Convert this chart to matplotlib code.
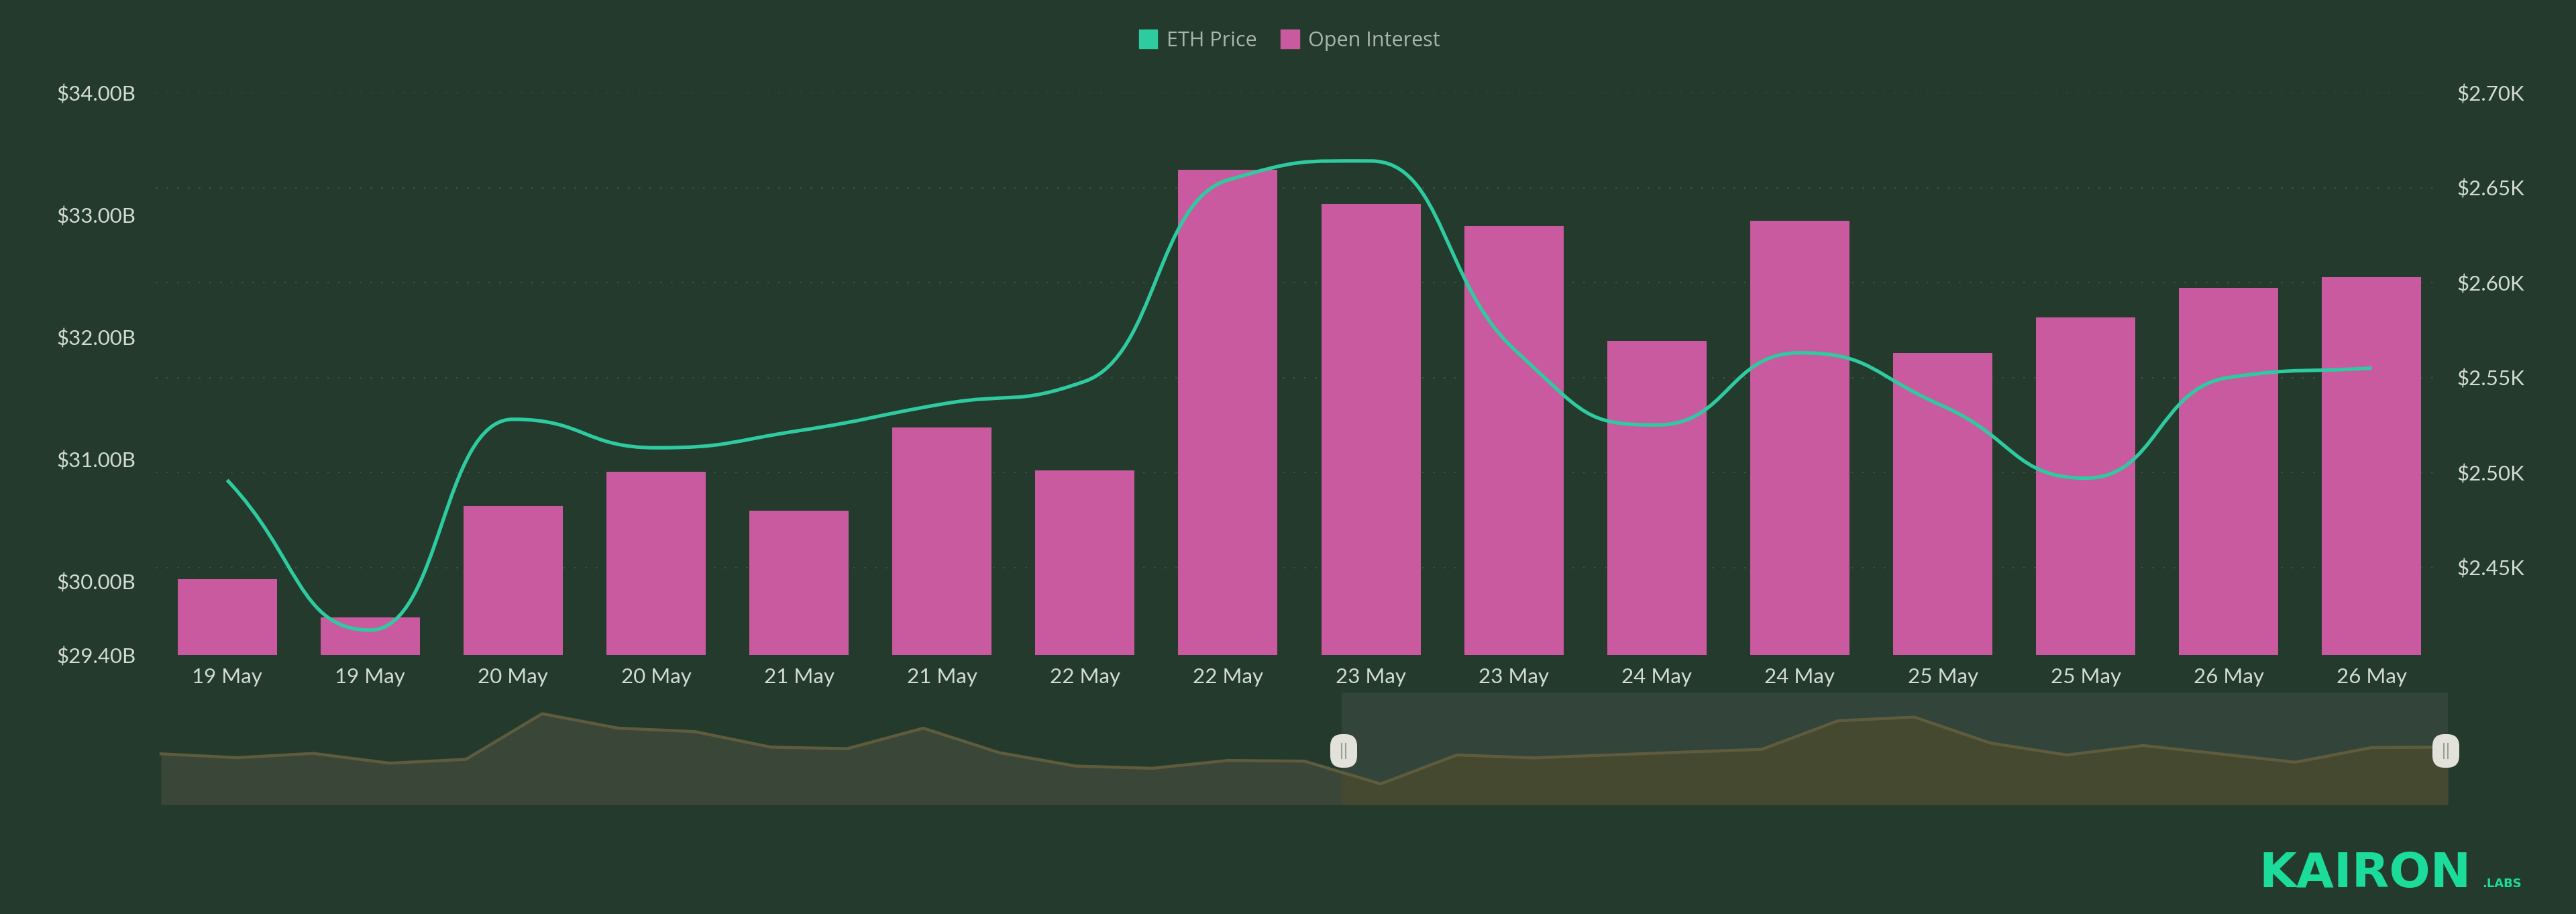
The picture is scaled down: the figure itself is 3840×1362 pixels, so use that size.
import matplotlib
matplotlib.use("Agg")
import matplotlib.pyplot as plt
import matplotlib.transforms as mtransforms
import numpy as np
from matplotlib.patches import FancyBboxPatch, Patch, PathPatch, Rectangle
from matplotlib.path import Path

plt.rcParams["font.family"] = ["Lato", "DejaVu Sans"]

# === DATA ===
labels = ["19 May", "19 May", "20 May", "20 May", "21 May", "21 May", "22 May", "22 May",
          "23 May", "23 May", "24 May", "24 May", "25 May", "25 May", "26 May", "26 May"]
open_interest = [30.02, 29.71, 30.62, 30.90, 30.58, 31.26, 30.91, 33.37,
                 33.09, 32.91, 31.97, 32.95, 31.87, 32.16, 32.40, 32.49]
eth_price = [2.496, 2.417, 2.528, 2.513, 2.522, 2.536, 2.548, 2.654,
             2.664, 2.565, 2.525, 2.563, 2.535, 2.497, 2.550, 2.555]
oi_ticks = [29.4, 30, 31, 32, 33, 34]
price_ticks = [2.45, 2.50, 2.55, 2.60, 2.65, 2.70]
# overview strip under the chart, height as a share of the strip
overview = [.453, .419, .457, .370, .404, .811, .682, .652, .513, .499, .682,
            .463, .344, .324, .394, .388, .185, .443, .417, .443, .469,
            .493, .748, .781, .549, .443, .527, .453, .378, .509, .513]
window_start = 15.49

# === STYLE ===
W, H = 3840, 1362
BG = "#243a2c"
BAR = "#ca5a9f"
LINE = "#2ecba0"
TEXT = "#d3dbd6"
FS = 22.5


def px_axes(fig, left, top, right, bottom):
    return fig.add_axes([left / W, 1 - bottom / H, (right - left) / W, (bottom - top) / H])


def smooth_path(x, y):
    """Bezier through the points, flat at local extrema (like a smoothed echarts line)."""
    x, y = np.asarray(x, float), np.asarray(y, float)
    m = np.zeros(len(y))
    for i in range(1, len(y) - 1):
        a, b = y[i] - y[i - 1], y[i + 1] - y[i]
        if a * b > 0:
            m[i] = np.sign(a) * min(abs(a + b) / 2, 2.2 * abs(a), 2.2 * abs(b))
    m[0], m[-1] = y[1] - y[0], y[-1] - y[-2]
    verts, codes = [(x[0], y[0])], [Path.MOVETO]
    for i in range(len(y) - 1):
        verts += [(x[i] + 0.5, y[i] + 0.5 * m[i]), (x[i + 1] - 0.5, y[i + 1] - 0.5 * m[i + 1]), (x[i + 1], y[i + 1])]
        codes += [Path.CURVE4] * 3
    return Path(verts, codes)


fig = plt.figure(figsize=(W / 100, H / 100), dpi=100, facecolor=BG)

#########################################################
# Main chart
#########################################################
ax = px_axes(fig, 232, 138, 3642, 976)
ax.set_facecolor("none")
xs = np.arange(len(labels))
ax.bar(xs, open_interest, width=0.695, color=BAR, zorder=3)
ax.set_xlim(-0.5, 15.5)
ax.set_ylim(29.4, 34)
ax.set_xticks(xs, labels)
ax.set_yticks(oi_ticks, [f"${v:.2f}B" for v in oi_ticks])
ax.tick_params(axis="x", length=0, pad=14, labelsize=FS, labelcolor=TEXT)
ax.tick_params(axis="y", length=0, pad=21, labelsize=FS, labelcolor=TEXT)

ax_price = ax.twinx()
ax_price.set_ylim(2.4039, 2.70)
ax_price.set_yticks(price_ticks, [f"${v:.2f}K" for v in price_ticks])
ax_price.tick_params(axis="y", length=0, pad=15, labelsize=FS, labelcolor=TEXT)
ax_price.add_patch(PathPatch(smooth_path(xs, eth_price), fill=False, edgecolor=LINE, lw=3.8, zorder=4))

# dotted grid follows the price axis but sits behind the bars
grid_tf = mtransforms.blended_transform_factory(ax.transAxes, ax_price.transData)
for p in price_ticks:
    ax.plot([0, 0.9985], [p, p], transform=grid_tf, color="#3b5144", lw=1.6, ls=(0, (1.2, 6)), zorder=1)

for a in (ax, ax_price):
    for spine in a.spines.values():
        spine.set_visible(False)

fig.legend(handles=[Patch(color=LINE, label="ETH Price"), Patch(color=BAR, label="Open Interest")],
           loc="center", bbox_to_anchor=((1685 + 2160) / 2 / W, 1 - 60 / H), ncol=2, frameon=False,
           prop={"family": "Open Sans", "size": 22}, labelcolor="#a9b6ae", handlelength=0.9, handleheight=1.0,
           handletextpad=0.45, columnspacing=1.15, borderpad=0)

#########################################################
# Overview slider
#########################################################
ax_s = px_axes(fig, 240, 1032, 3649, 1199)
ax_s.set_xlim(0, len(overview) - 1)
ax_s.set_ylim(0, 1)
ax_s.axis("off")
ox = np.arange(len(overview))
ax_s.fill_between(ox, overview, 0, color="#3a4738", lw=0, zorder=1)
ax_s.add_patch(Rectangle((window_start, 0), ox[-1] - window_start, 1, color="#33443a", lw=0, zorder=2))
sel = ax_s.fill_between(ox, overview, 0, color="#44492f", lw=0, zorder=3)
sel.set_clip_path(Rectangle((window_start, 0), ox[-1] - window_start, 1, transform=ax_s.transData))
ax_s.plot(ox, overview, color="#5f5c3e", lw=3.2, zorder=4, clip_on=False)

# slider handles, in figure pixels so they stay pill shaped
overlay = fig.add_axes([0, 0, 1, 1], facecolor="none")
overlay.set_xlim(0, W)
overlay.set_ylim(H, 0)
overlay.axis("off")
for cx in (2003, 3646):
    overlay.add_patch(FancyBboxPatch((cx - 12, 1102), 24, 34, boxstyle="round,pad=8,rounding_size=18",
                                     fc="#e2e2da", ec="none", zorder=5))
    overlay.plot([cx - 3, cx - 3], [1108, 1130], color="#9a9d96", lw=1.5, zorder=6)
    overlay.plot([cx + 3, cx + 3], [1108, 1130], color="#9a9d96", lw=1.5, zorder=6)

#########################################################
# Logo
#########################################################
overlay.text(3367, 1322, "KAIRON", family="DejaVu Sans", fontsize=52, fontweight="bold", color="#1cdc9c", ha="left", va="baseline")
overlay.text(3700, 1322, ".LABS", family="DejaVu Sans", fontsize=13, fontweight="bold", color="#1cdc9c", ha="left", va="baseline")

fig.savefig("out.png", dpi=100, facecolor=BG)
